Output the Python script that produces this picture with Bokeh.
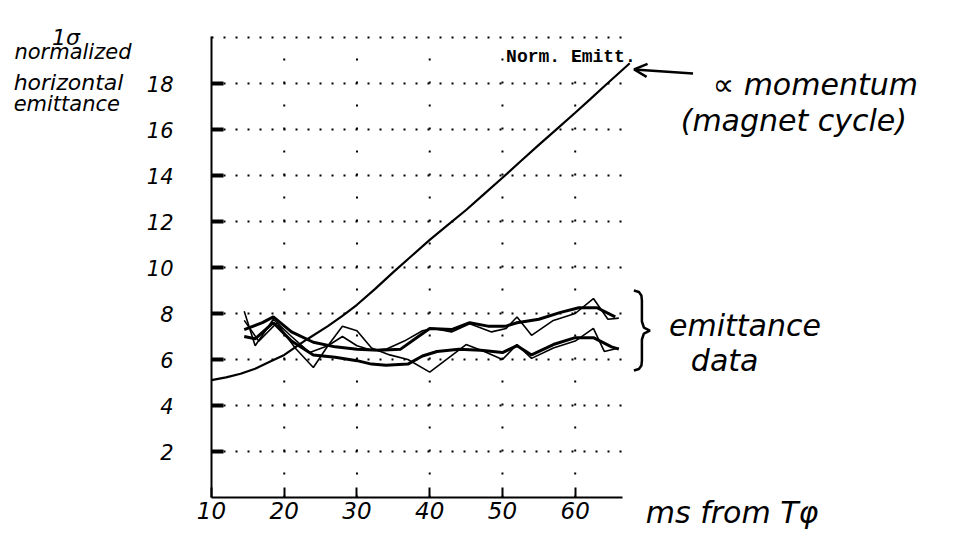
from bokeh.plotting import figure
from bokeh.models import FixedTicker, Label, Arrow, OpenHead, PolyAnnotation, Range1d
from bokeh.embed import file_html
from bokeh.resources import INLINE

# ---- data ----
mom_x = [10, 12, 14, 16, 18, 20, 23, 26, 28, 30, 32.5, 35, 37.5, 40, 42.5, 45, 47.5, 50, 52.5, 55, 57.5, 60, 62, 64, 67.5]
mom_y = [5.1, 5.22, 5.38, 5.6, 5.9, 6.2, 6.85, 7.45, 7.9, 8.38, 9.07, 9.8, 10.5, 11.2, 11.85, 12.5, 13.2, 13.9, 14.62, 15.33, 16.03, 16.73, 17.3, 17.88, 18.88]

up_thick_x = [14.5, 17, 18.5, 21, 24, 27, 30, 33, 36, 38, 40, 43, 45.5, 48, 50.5, 52, 55, 58, 60.5, 63, 65.5]
up_thick_y = [7.3, 7.6, 7.85, 7.2, 6.75, 6.55, 6.45, 6.4, 6.45, 6.9, 7.35, 7.3, 7.6, 7.45, 7.45, 7.6, 7.75, 8.05, 8.25, 8.25, 7.85]

up_thin_x = [14.5, 16, 18.5, 21, 23.5, 26, 28, 30, 32, 34, 36.5, 39, 40.5, 43, 45.5, 48.5, 50.5, 52, 54, 57, 60, 62.5, 64.5, 66]
up_thin_y = [8.1, 6.6, 7.75, 7.0, 6.3, 6.6, 7.0, 6.6, 6.4, 6.45, 6.8, 7.25, 7.35, 7.2, 7.55, 7.2, 7.35, 7.85, 7.05, 7.7, 8.0, 8.65, 7.75, 7.8]

lo_thick_x = [14.5, 16, 18.5, 21, 24, 27, 30, 32, 34, 37, 39, 41, 44, 47, 50, 52, 54, 57, 60, 62.5, 65, 66]
lo_thick_y = [7.0, 6.9, 7.6, 6.8, 6.2, 6.1, 5.95, 5.8, 5.75, 5.8, 6.15, 6.35, 6.45, 6.4, 6.3, 6.6, 6.2, 6.65, 6.95, 6.95, 6.55, 6.45]

lo_thin_x = [14.5, 16.5, 19, 21.5, 24, 26, 28, 30, 32, 34.5, 37, 40, 42.5, 45, 47.5, 50, 52, 54, 57, 60, 62.5, 64, 66]
lo_thin_y = [7.7, 6.8, 7.6, 6.5, 5.65, 6.6, 7.45, 7.25, 6.5, 6.2, 6.0, 5.45, 6.05, 6.65, 6.35, 6.0, 6.65, 6.05, 6.5, 6.8, 7.35, 6.35, 6.5]

x_ticks = [10, 20, 30, 40, 50, 60]
y_ticks = [2, 4, 6, 8, 10, 12, 14, 16, 18]
y_grid = [2, 4, 6, 8, 10, 12, 14, 16, 18, 20]
x_grid = [20, 30, 40, 50, 60]
x_axis_span = (10, 66.5)
y_axis_span = (0, 20.03)

HAND = "DejaVu Sans"
W, H = 950, 530
PX_X, PX_Y = 7.274, 23.0          # pixels per data unit
X0 = 10 - 211 / PX_X               # data x at the left canvas edge
Y1 = 497 / PX_Y                    # data y at the top canvas edge

p = figure(width=W, height=H, output_backend="svg", toolbar_location=None,
           x_range=Range1d(X0, X0 + W / PX_X), y_range=Range1d(Y1 - H / PX_Y, Y1),
           min_border=0, background_fill_color="white", border_fill_color="white")
p.outline_line_color = None
p.grid.visible = False

# axes placed at the chart's origin (x = 10 ms, y = 0)
p.xaxis.fixed_location = y_axis_span[0]
p.yaxis.fixed_location = x_axis_span[0]
p.xaxis.ticker = FixedTicker(ticks=x_ticks)
p.yaxis.ticker = FixedTicker(ticks=y_ticks)
p.xaxis.bounds = x_axis_span
p.yaxis.bounds = y_axis_span
for ax in (p.xaxis, p.yaxis):
    ax.axis_line_color = "black"
    ax.axis_line_width = 2
    ax.major_tick_out = 0
    ax.major_tick_line_color = "black"
    ax.minor_tick_line_color = None
    ax.major_label_text_font = HAND
    ax.major_label_text_font_style = "italic"
    ax.major_label_text_color = "black"
p.yaxis.major_tick_in = 12
p.yaxis.major_tick_line_width = 4
p.yaxis.major_label_text_font_size = "21px"
p.yaxis.major_label_standoff = 38
p.xaxis.major_tick_in = 10
p.xaxis.major_tick_line_width = 2
p.xaxis.major_label_text_font_size = "23px"
p.xaxis.major_label_standoff = 4

# dotted grid (within the axis spans)
p.segment(x0=[x_axis_span[0]] * len(y_grid), x1=[x_axis_span[1]] * len(y_grid),
          y0=y_grid, y1=y_grid, line_color="black", line_width=2, line_dash="2 10")
p.segment(x0=x_grid, x1=x_grid, y0=[0] * len(x_grid), y1=[20] * len(x_grid),
          line_color="black", line_width=2, line_dash="2 21")

# curves
p.line(mom_x, mom_y, line_color="black", line_width=2.2)
p.line(up_thick_x, up_thick_y, line_color="black", line_width=3)
p.line(lo_thick_x, lo_thick_y, line_color="black", line_width=3)
p.line(up_thin_x, up_thin_y, line_color="black", line_width=1.6)
p.line(lo_thin_x, lo_thin_y, line_color="black", line_width=1.6)

def note(x, y, text, size, font=HAND, style="italic", align="left"):
    p.add_layout(Label(x=x, y=y, text=text, text_font_size=size, text_font=font,
                       text_font_style=style, text_align=align, text_baseline="alphabetic",
                       text_color="black"))

# y-axis title block (top left)
note(-10.0, 20.0, "1σ", "22px", align="center")
note(-9.05, 19.35, "normalized", "21px", align="center")
note(-17.2, 18.04, "horizontal", "22px")
note(-17.2, 17.09, "emittance", "21px")

# typed chart title
note(50.5, 19.17, "Norm. Emitt.", "18px", font="Liberation Mono", style="bold")

# momentum annotation
p.add_layout(Arrow(end=OpenHead(size=13, line_width=2.5, line_color="black"),
                   x_start=76.2, y_start=18.43, x_end=68.1, y_end=18.61,
                   line_width=2.5, line_color="black"))
note(78.9, 17.96, "∝ momentum", "30px")
note(74.5, 16.39, "(magnet cycle)", "30px")

# emittance data brace and label
bx, byc = 69.17, 7.26
pts = [(-8, -40), (-3, -38.5), (-0.5, -35), (0, -30), (0, -9), (2, -3), (8, 0),
       (2, 3), (0, 9), (0, 30), (-0.5, 35), (-3, 38.5), (-8, 40)]
fx = [bx + dx / PX_X for dx, dy in pts]
fy = [byc - dy / PX_Y for dx, dy in pts]
p.add_layout(PolyAnnotation(xs=fx + fx[::-1], ys=fy + fy[::-1], fill_alpha=0,
                            line_color="black", line_alpha=1.0, line_width=2.5))
note(72.9, 7.48, "emittance", "30px")
note(75.9, 5.96, "data", "30px")

# x-axis title
note(69.7, -0.65, "ms from Tφ", "30px")

open("out.html", "w").write(file_html(p, INLINE))
